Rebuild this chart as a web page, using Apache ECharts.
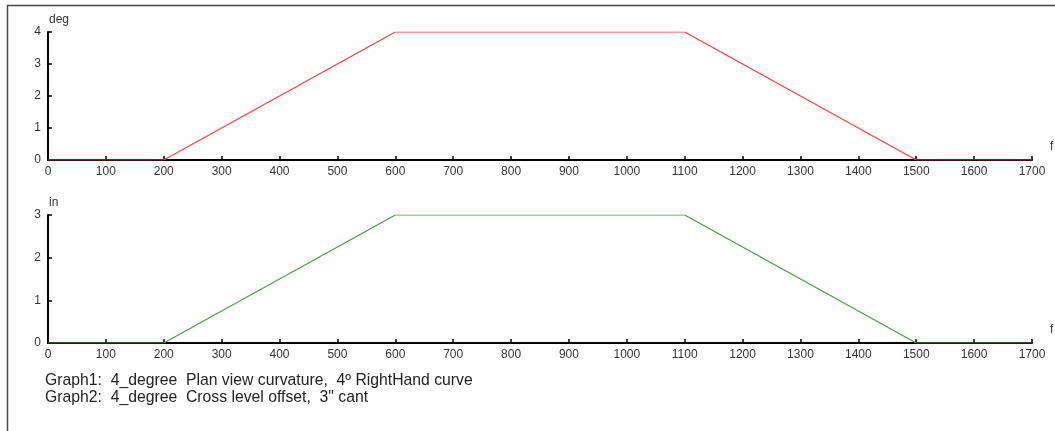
<!DOCTYPE html>
<html><head><meta charset="utf-8">
<script src="https://cdn.jsdelivr.net/npm/echarts@6/dist/echarts.min.js"></script>
<style>html,body{margin:0;padding:0;background:#fff}#c{width:1055px;height:431px}</style>
</head><body><div id="c"></div>
<script>
const xTicks = [0,100,200,300,400,500,600,700,800,900,1000,1100,1200,1300,1400,1500,1600,1700];
const curvatureX = [0, 200, 600, 1100, 1500, 1700];
const curvatureDeg = [0, 0, 4, 4, 0, 0];
const crossX = [0, 200, 600, 1100, 1500, 1700];
const crossIn = [0, 0, 3, 3, 0, 0];
const caption1 = 'Graph1:  4_degree  Plan view curvature,  4\u00BA RightHand curve';
const caption2 = 'Graph2:  4_degree  Cross level offset,  3" cant';

const font = 'Liberation Sans, Arial, sans-serif';
function xAxis(gi){
  return {gridIndex:gi,type:'value',min:xTicks[0],max:xTicks[xTicks.length-1],interval:xTicks[1]-xTicks[0],
    name:'f',nameLocation:'end',nameGap:18,
    nameTextStyle:{color:'#333',fontSize:12,fontFamily:font,verticalAlign:'bottom',padding:[0,0,7,0]},
    axisLine:{lineStyle:{color:'#000',width:2}},
    axisTick:{inside:true,length:4,lineStyle:{color:'#000',width:1.5}},
    axisLabel:{color:'#333',fontSize:12,fontFamily:font,margin:6,formatter:v=>String(v)},
    splitLine:{show:false}};
}
function yAxis(gi,max,name){
  return {gridIndex:gi,type:'value',min:0,max:max,interval:1,
    name:name,nameLocation:'end',nameGap:6,
    nameTextStyle:{color:'#333',fontSize:12,fontFamily:font,align:'left',padding:[0,0,0,1]},
    axisLine:{show:true,lineStyle:{color:'#000',width:2}},
    axisTick:{show:true,inside:true,length:4,lineStyle:{color:'#000',width:1.5}},
    axisLabel:{color:'#333',fontSize:12,fontFamily:font,margin:7},
    splitLine:{show:false}};
}
const chart = echarts.init(document.getElementById('c'),null,{renderer:'canvas'});
chart.setOption({
  animation:false,
  backgroundColor:'#fff',
  grid:[{left:48,right:23,top:32,height:128},{left:48,right:23,top:215,height:128}],
  xAxis:[xAxis(0),xAxis(1)],
  yAxis:[yAxis(0,4,'deg'),yAxis(1,3,'in')],
  series:[
    {type:'line',xAxisIndex:0,yAxisIndex:0,showSymbol:false,symbol:'none',
     lineStyle:{color:'#ff3b3b',width:1.2},data:curvatureX.map((x,i)=>[x,curvatureDeg[i]])},
    {type:'line',xAxisIndex:1,yAxisIndex:1,showSymbol:false,symbol:'none',
     lineStyle:{color:'#3aa63a',width:1.2},data:crossX.map((x,i)=>[x,crossIn[i]])}
  ],
  graphic:[
    {type:'rect',shape:{x:7.5,y:5.5,width:1200,height:600},style:{fill:'none',stroke:'#444',lineWidth:1.5},silent:true},
    {type:'text',left:45,top:373,style:{text:caption1,fontSize:15.75,fontFamily:font,fill:'#222'}},
    {type:'text',left:45,top:390,style:{text:caption2,fontSize:15.75,fontFamily:font,fill:'#222'}}
  ]
});
</script></body></html>
